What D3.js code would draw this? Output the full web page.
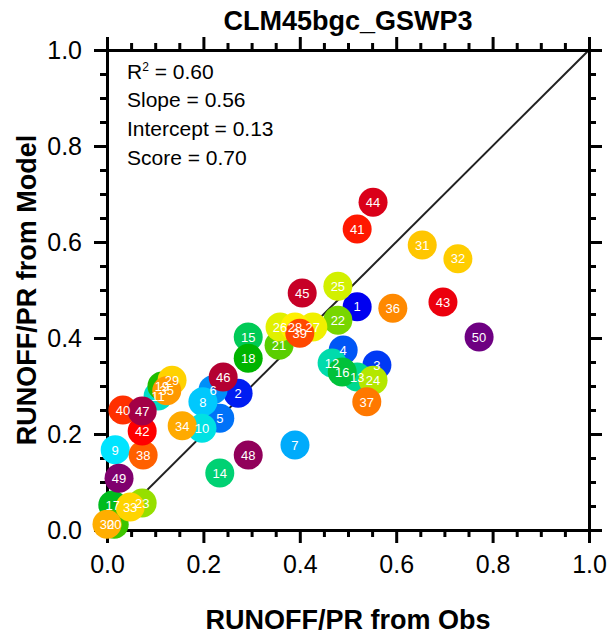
<!DOCTYPE html>
<html>
<head>
<meta charset="utf-8">
<script src="https://cdn.jsdelivr.net/npm/d3@7"></script>
<style>
  body { margin: 0; background: #fff; }
  text { font-family: "Liberation Sans", Arial, Helvetica, sans-serif; }
</style>
</head>
<body>
<div id="scatter"></div>
<script>
// station numbers and values
var ids = d3.range(1, 51);
var obsRatio = [
  0.519, 0.272, 0.560, 0.490, 0.234, 0.220, 0.390, 0.199, 0.017, 0.197,
  0.106, 0.467, 0.519, 0.234, 0.293, 0.488, 0.012, 0.293, 0.114, 0.015,
  0.357, 0.479, 0.073, 0.552, 0.479, 0.359, 0.427, 0.390, 0.135, 0.000,
  0.654, 0.728, 0.048, 0.156, 0.124, 0.593, 0.539, 0.075, 0.400, 0.033,
  0.519, 0.073, 0.697, 0.552, 0.405, 0.241, 0.073, 0.293, 0.025, 0.772
];
var modelRatio = [
  0.465, 0.285, 0.344, 0.375, 0.233, 0.292, 0.177, 0.267, 0.167, 0.212,
  0.279, 0.348, 0.319, 0.119, 0.402, 0.329, 0.052, 0.358, 0.300, 0.012,
  0.385, 0.437, 0.056, 0.312, 0.508, 0.423, 0.423, 0.423, 0.312, 0.012,
  0.594, 0.565, 0.048, 0.217, 0.290, 0.462, 0.267, 0.156, 0.410, 0.250,
  0.627, 0.206, 0.475, 0.683, 0.494, 0.319, 0.248, 0.156, 0.108, 0.402
];
var statLines = ["Slope = 0.56", "Intercept = 0.13", "Score = 0.70"];
var tickValues = [0, 0.2, 0.4, 0.6, 0.8, 1.0];

// colour stops along the station index
var colorIdx = [1, 9, 13, 18, 25, 28, 29, 30, 31, 33, 34, 37, 42, 46, 50];
var colorStops = ["#0000f0", "#00e4ff", "#00d890", "#00b400", "#d2f000", "#fff000",
                  "#ffd200", "#ffae00", "#ffc600", "#ffd400", "#ffaa00", "#ff7800",
                  "#ff0000", "#b40032", "#6e0082"];

var svgWidth = 616;
var svgHeight = 635;
var margin = { top: 50, left: 107 };
var width = 482;
var height = 480;

var svg = d3.select("#scatter")
  .append("svg")
  .attr("width", svgWidth)
  .attr("height", svgHeight);

var chartGroup = svg.append("g")
  .attr("transform", `translate(${margin.left}, ${margin.top})`);

var xScale = d3.scaleLinear().domain([0, 1]).range([0, width]);
var yScale = d3.scaleLinear().domain([0, 1]).range([height, 0]);
var color = d3.scaleLinear().domain(colorIdx).range(colorStops);

var data = ids.map((id, i) => ({ id: id, x: obsRatio[i], y: modelRatio[i] }));

// 1:1 line
chartGroup.append("line")
  .attr("x1", xScale(0)).attr("y1", yScale(0))
  .attr("x2", xScale(1)).attr("y2", yScale(1))
  .attr("stroke", "#222")
  .attr("stroke-width", 2);

// axes: major ticks every 0.2, minor every 0.05, all pointing outward
var minor = d3.range(0, 1.0001, 0.05).filter(v => Math.abs(v * 5 - Math.round(v * 5)) > 0.01);
function axisSet(axisFn, scale, transform, withLabels) {
  chartGroup.append("g")
    .attr("transform", transform)
    .call(axisFn(scale).tickValues(minor).tickSize(7).tickFormat(""))
    .call(g => g.select(".domain").remove());
  var g = chartGroup.append("g")
    .attr("transform", transform)
    .call(axisFn(scale).tickValues(tickValues).tickSize(13).tickPadding(withLabels ? 12 : 0)
      .tickFormat(withLabels ? d3.format(".1f") : ""));
  g.select(".domain").attr("stroke-width", 3);
  return g;
}
axisSet(d3.axisBottom, xScale, `translate(0, ${height})`, true);
axisSet(d3.axisLeft, yScale, "translate(0, 0)", true);
axisSet(d3.axisTop, xScale, "translate(0, 0)", false);
axisSet(d3.axisRight, yScale, `translate(${width}, 0)`, false);
chartGroup.selectAll(".tick line").attr("stroke", "#000").attr("stroke-width", 3);
chartGroup.selectAll(".domain").attr("stroke", "#000");
chartGroup.selectAll(".tick text")
  .attr("fill", "#000")
  .style("font-size", "25px");

// markers first, then all the numbers on top
chartGroup.selectAll(".pt")
  .data(data)
  .enter()
  .append("circle")
  .attr("class", "pt")
  .attr("cx", d => xScale(d.x))
  .attr("cy", d => yScale(d.y))
  .attr("r", 14.5)
  .attr("fill", d => color(d.id));

chartGroup.selectAll(".ptLabel")
  .data(data)
  .enter()
  .append("text")
  .attr("class", "ptLabel")
  .attr("x", d => xScale(d.x))
  .attr("y", d => yScale(d.y))
  .attr("text-anchor", "middle")
  .attr("dy", "0.36em")
  .style("font-size", "13px")
  .style("fill", "white")
  .text(d => d.id);

// statistics
var stats = chartGroup.append("text")
  .attr("x", 20)
  .attr("y", 29)
  .style("font-size", "21px");
stats.append("tspan").text("R");
stats.append("tspan").text("2").attr("dy", -8).style("font-size", "12px");
stats.append("tspan").text(" = 0.60").attr("dy", 8);

chartGroup.selectAll(".stat")
  .data(statLines)
  .enter()
  .append("text")
  .attr("class", "stat")
  .attr("x", 20)
  .attr("y", (d, i) => 57 + i * 29)
  .style("font-size", "21px")
  .text(d => d);

// title and axis labels
svg.append("text")
  .attr("x", margin.left + width / 2)
  .attr("y", 30)
  .attr("text-anchor", "middle")
  .style("font-size", "27px")
  .style("font-weight", "bold")
  .text("CLM45bgc_GSWP3");

svg.append("text")
  .attr("x", margin.left + width / 2)
  .attr("y", 629)
  .attr("text-anchor", "middle")
  .style("font-size", "27px")
  .style("font-weight", "bold")
  .text("RUNOFF/PR from Obs");

svg.append("text")
  .attr("transform", `translate(36, ${margin.top + height / 2}) rotate(-90)`)
  .attr("text-anchor", "middle")
  .style("font-size", "27px")
  .style("font-weight", "bold")
  .text("RUNOFF/PR from Model");
</script>
</body>
</html>
